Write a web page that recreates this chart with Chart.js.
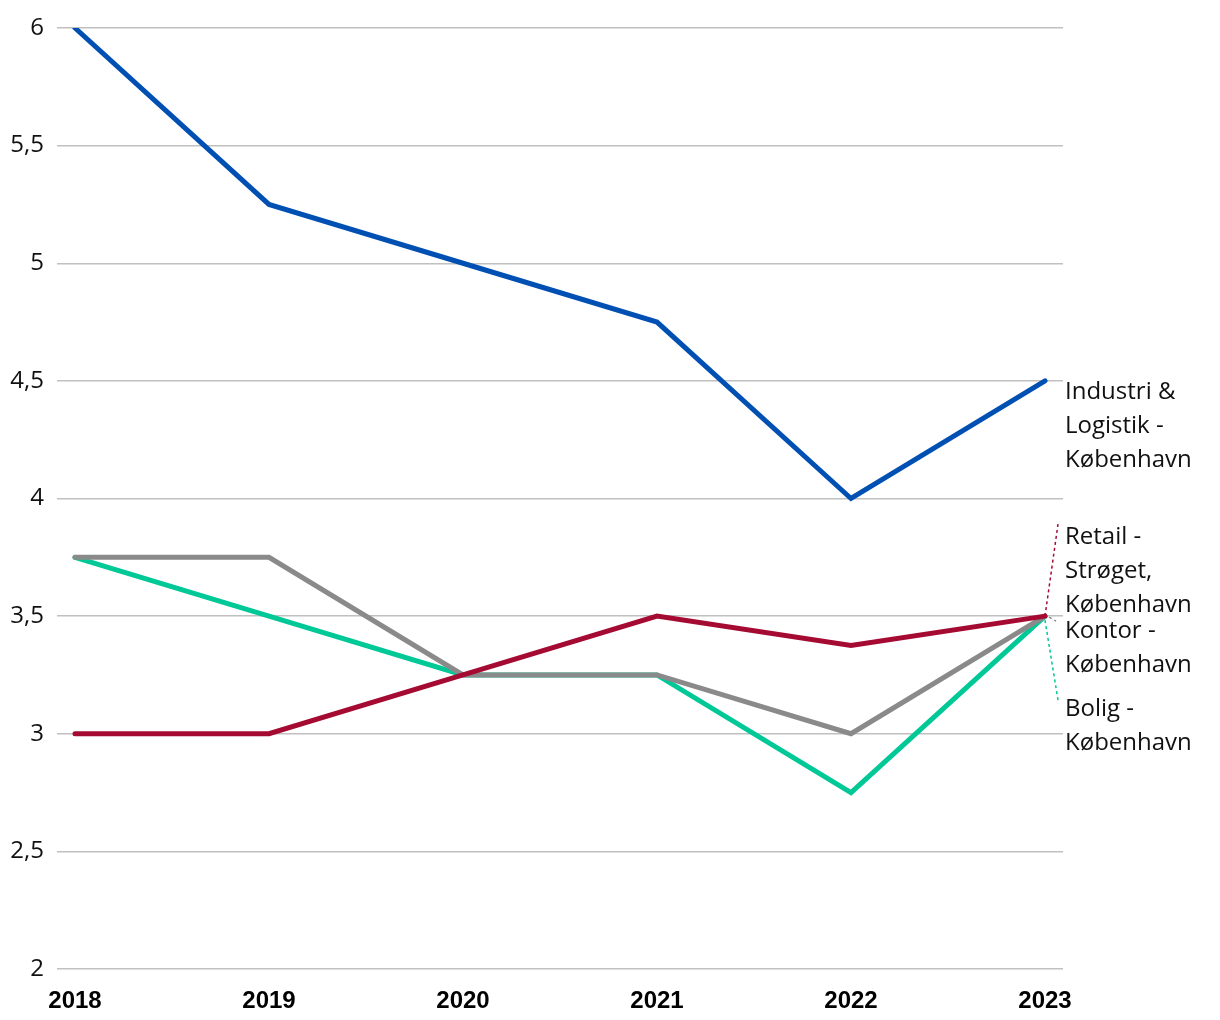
<!DOCTYPE html>
<html>
<head>
<meta charset="utf-8">
<script src="https://cdn.jsdelivr.net/npm/chart.js@4/dist/chart.umd.min.js"></script>
<style>
html,body{margin:0;padding:0;background:#fff;}
#wrap{width:1220px;height:1020px;}
</style>
</head>
<body>
<div id="wrap"><canvas id="c" width="1220" height="1020"></canvas></div>
<script>
const years = [2018, 2019, 2020, 2021, 2022, 2023];
const industri = [6, 5.25, 5.0, 4.75, 4.0, 4.5];
const retail = [3, 3, 3.25, 3.5, 3.375, 3.5];
const kontor = [3.75, 3.75, 3.25, 3.25, 3.0, 3.5];
const bolig = [3.75, 3.5, 3.25, 3.25, 2.75, 3.5];
const seriesLabels = [
  ["Industri &", "Logistik -", "København"],
  ["Retail -", "Strøget,", "København"],
  ["Kontor -", "København"],
  ["Bolig -", "København"]
];
const yTicks = [2, 2.5, 3, 3.5, 4, 4.5, 5, 5.5, 6];

const colors = ["#0050b4", "#a50a32", "#8a8a8a", "#00c896"];
const seriesValues = [industri, retail, kontor, bolig];

// label layout (style): first line offset from last point y, leader endpoint offsets
const labelStyle = [
  {dy: 11, leader: null},
  {dy: -79, leader: {x0: 0, y0: 0, x1: 13, y1: -92, dash: [3, 3]}},
  {dy: 15, leader: {x0: 4, y0: 1, x1: 11, y1: 5, dash: [3, 3]}},
  {dy: 93, leader: {x0: 0, y0: 4, x1: 13, y1: 84, dash: [3, 3]}}
];

const endLabels = {
  id: 'endLabels',
  afterDatasetsDraw(chart) {
    const ctx = chart.ctx;
    const xs = chart.scales.x, ys = chart.scales.y;
    ctx.save();
    chart.data.datasets.forEach((ds, i) => {
      const last = ds.data[ds.data.length - 1];
      const px = xs.getPixelForValue(last.x);
      const py = ys.getPixelForValue(last.y);
      const st = labelStyle[i];
      if (st.leader) {
        ctx.beginPath();
        ctx.setLineDash(st.leader.dash);
        ctx.strokeStyle = colors[i];
        ctx.lineWidth = 1.5;
        ctx.moveTo(px + st.leader.x0, py + st.leader.y0);
        ctx.lineTo(px + st.leader.x1, py + st.leader.y1);
        ctx.stroke();
        ctx.setLineDash([]);
      }
      ctx.fillStyle = '#111';
      ctx.font = '24px "Open Sans"';
      ctx.textAlign = 'left';
      ctx.textBaseline = 'middle';
      seriesLabels[i].forEach((t, k) => {
        ctx.fillText(t, chart.chartArea.right + 2, py + st.dy + k * 34);
      });
    });
    ctx.restore();
  }
};

const datasets = seriesValues.map((vals, i) => ({
  label: seriesLabels[i].join(' '),
  data: vals.map((v, j) => ({x: years[j], y: v})),
  borderColor: colors[i],
  backgroundColor: colors[i],
  borderWidth: 5,
  pointRadius: 0,
  tension: 0,
  borderCapStyle: 'round',
  borderJoinStyle: 'miter'
}));

new Chart(document.getElementById('c'), {
  type: 'line',
  data: {datasets},
  options: {
    responsive: false,
    animation: false,
    devicePixelRatio: 1,
    layout: {padding: {left: 0, right: 157, top: 28, bottom: 0}},
    plugins: {legend: {display: false}, tooltip: {enabled: false}},
    scales: {
      x: {
        type: 'linear',
        min: years[0] - 18 / 194,
        max: years[years.length - 1] + 18 / 194,
        afterBuildTicks: s => { s.ticks = years.map(v => ({value: v})); },
        afterFit: s => { s.height = 51; },
        grid: {display: false, drawTicks: false},
        border: {display: false},
        ticks: {
          color: '#000',
          font: {family: '"Liberation Sans", Arial', size: 24, weight: 'bold'},
          padding: 18,
          maxRotation: 0,
          autoSkip: false,
          callback: v => String(v)
        }
      },
      y: {
        min: 2, max: 6,
        afterBuildTicks: s => { s.ticks = yTicks.map(v => ({value: v})); },
        afterFit: s => { s.width = 57; },
        grid: {color: '#c0c0c0', lineWidth: 1.5, drawTicks: false},
        border: {display: false},
        ticks: {
          color: '#111',
          font: {family: '"Open Sans"', size: 24},
          padding: 13,
          callback: v => String(v).replace('.', ',')
        }
      }
    }
  },
  plugins: [endLabels]
});
</script>
</body>
</html>
